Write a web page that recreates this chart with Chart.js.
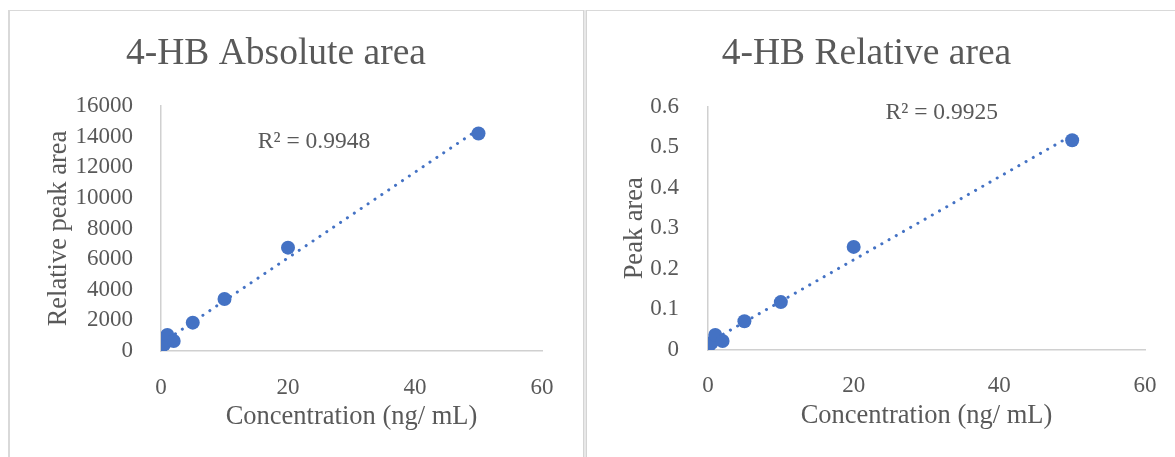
<!DOCTYPE html>
<html>
<head>
<meta charset="utf-8">
<script src="https://cdn.jsdelivr.net/npm/chart.js@4.4.1/dist/chart.umd.min.js"></script>
<style>
  html, body { margin: 0; padding: 0; background: #fff; width: 1175px; height: 457px; overflow: hidden; }
  .rule { position: absolute; box-sizing: border-box; }
  canvas { position: absolute; }
</style>
</head>
<body>
<!-- frames around the two chart panels -->
<div class="rule" style="left:8px;top:10px;width:1167px;height:1px;background:#d9d9d9"></div>
<div class="rule" style="left:8px;top:10px;width:2px;height:447px;background:#d9d9d9"></div>
<div class="rule" style="left:583px;top:10px;width:4px;height:447px;background:#e8e8e8;border-left:1px solid #d4d4d4;border-right:1px solid #d4d4d4"></div>

<canvas id="absChart" width="572" height="446" style="left:10px;top:11px"></canvas>
<canvas id="relChart" width="596" height="446" style="left:588px;top:11px"></canvas>

<script>
// Calibration standards (ng/mL) and measured responses
const concentration = [0.1, 0.5, 1, 2, 5, 10, 20, 50];
const absoluteArea  = [330, 440, 1050, 650, 1850, 3400, 6750, 14200];
const relativeArea  = [0.010, 0.018, 0.037, 0.022, 0.071, 0.118, 0.254, 0.517];

// Axis tick values
const xTicks   = [0, 20, 40, 60];
const absTicks = [0, 2000, 4000, 6000, 8000, 10000, 12000, 14000, 16000];
const relTicks = [0, 0.1, 0.2, 0.3, 0.4, 0.5, 0.6];

// Text
const absTitle = '4-HB Absolute area';
const relTitle = '4-HB Relative area';
const xTitle = 'Concentration (ng/ mL)';
const absYTitle = 'Relative peak area';
const relYTitle = 'Peak area';
const absR2 = 'R² = 0.9948';
const relR2 = 'R² = 0.9925';

const SERIF = "'Liberation Serif', 'Times New Roman', serif";
const GREY = '#595959';
const BLUE = '#4472C4';
const AXIS = '#d0d0d0';

// Least-squares straight line through the points
function linearFit(xs, ys) {
  const n = xs.length;
  const mx = xs.reduce((a, b) => a + b, 0) / n;
  const my = ys.reduce((a, b) => a + b, 0) / n;
  let sxy = 0, sxx = 0;
  for (let i = 0; i < n; i++) {
    sxy += (xs[i] - mx) * (ys[i] - my);
    sxx += (xs[i] - mx) * (xs[i] - mx);
  }
  const slope = sxy / sxx;
  return { slope, intercept: my - slope * mx };
}

// Writes the R² note at a spot given in axis units
const r2Note = {
  id: 'r2Note',
  afterDatasetsDraw(chart, args, opts) {
    const { ctx, scales } = chart;
    ctx.save();
    ctx.font = opts.size + 'px ' + SERIF;
    ctx.fillStyle = GREY;
    ctx.textAlign = 'center';
    ctx.textBaseline = 'middle';
    ctx.fillText(opts.text, scales.x.getPixelForValue(opts.at[0]), scales.y.getPixelForValue(opts.at[1]));
    ctx.restore();
  }
};

function buildChart(id, p) {
  const pts = concentration.map((c, i) => ({ x: c, y: p.values[i] }));
  const fit = linearFit(concentration, p.values);
  const xmin = Math.min(...concentration), xmax = Math.max(...concentration);
  const trend = [xmin, xmax].map(v => ({ x: v, y: fit.intercept + fit.slope * v }));

  return new Chart(document.getElementById(id), {
    type: 'scatter',
    data: {
      datasets: [
        {
          data: pts,
          backgroundColor: BLUE,
          borderWidth: 0,
          pointRadius: 7,
          pointHoverRadius: 7
        },
        {
          type: 'line',
          data: trend,
          showLine: true,
          borderColor: BLUE,
          borderWidth: 3,
          borderDash: [0.1, 8.2],
          borderCapStyle: 'round',
          pointRadius: 0,
          fill: false
        }
      ]
    },
    options: {
      responsive: false,
      animation: false,
      devicePixelRatio: 1,
      layout: { padding: { left: 0, right: p.padRight, top: 0, bottom: 0 } },
      plugins: {
        legend: { display: false },
        tooltip: { enabled: false },
        title: {
          display: true,
          text: p.title,
          color: GREY,
          font: { family: SERIF, size: 37.5, weight: 'normal', lineHeight: 1.2 },
          padding: { top: 20.5, bottom: p.titleGap }
        },
        r2Note: { text: p.r2, at: p.r2At, size: 23.5 }
      },
      scales: {
        x: {
          type: 'linear',
          min: 0, max: 60,
          grid: { display: false },
          border: { display: true, color: AXIS, width: 1.5 },
          afterBuildTicks: s => { s.ticks = xTicks.map(v => ({ value: v })); },
          afterFit: s => { s.height = p.xHeight; },
          ticks: { color: GREY, font: { family: SERIF, size: 23 }, padding: p.xTickPad, maxRotation: 0 },
          title: {
            display: true, text: xTitle, color: GREY,
            font: { family: SERIF, size: 26.5 },
            padding: { top: 0, bottom: p.xTitlePad }
          }
        },
        y: {
          type: 'linear',
          min: p.ticks[0], max: p.ticks[p.ticks.length - 1],
          grid: { display: false },
          border: { display: true, color: AXIS, width: 1.5 },
          afterBuildTicks: s => { s.ticks = p.ticks.map(v => ({ value: v })); },
          afterFit: s => { s.width = p.yWidth; },
          ticks: { color: GREY, font: { family: SERIF, size: 23 }, padding: p.yTickPad, callback: v => String(v) },
          title: {
            display: true, text: p.yTitle, color: GREY,
            font: { family: SERIF, size: 26.5 },
            padding: { top: p.yTitlePad, bottom: 0 }
          }
        }
      }
    },
    plugins: [r2Note]
  });
}

buildChart('absChart', {
  values: absoluteArea, ticks: absTicks, title: absTitle, yTitle: absYTitle,
  r2: absR2, r2At: [24.1, 13680],
  padRight: 40, titleGap: 29.5, xHeight: 106, yWidth: 151,
  xTickPad: 14.7, xTitlePad: 24.4, yTickPad: 20, yTitlePad: 33
});

buildChart('relChart', {
  values: relativeArea, ticks: relTicks, title: relTitle, yTitle: relYTitle,
  r2: relR2, r2At: [32.1, 0.585],
  padRight: 39, titleGap: 30, xHeight: 107, yWidth: 120,
  xTickPad: 13.7, xTitlePad: 25, yTickPad: 21, yTitlePad: 31
});
</script>
</body>
</html>
